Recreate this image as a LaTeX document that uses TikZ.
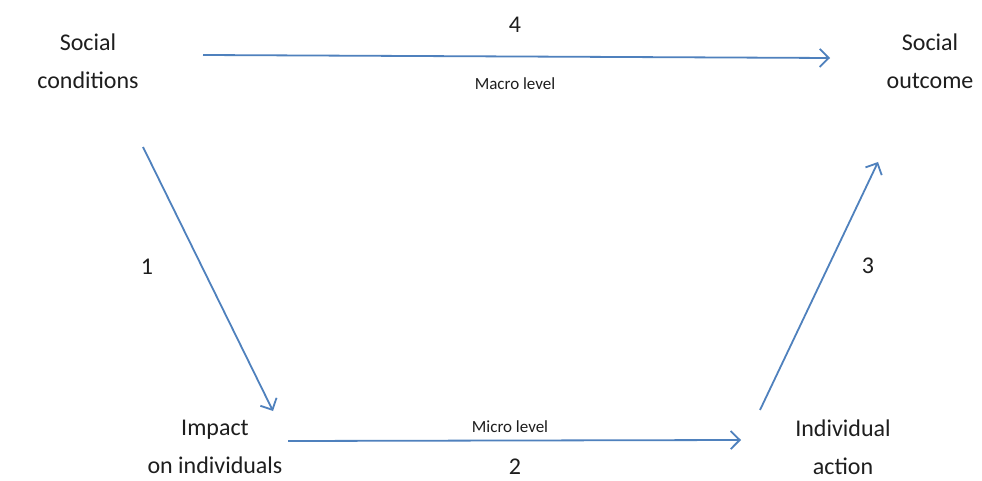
\documentclass[tikz,border=0pt]{standalone}
\usepackage{fontspec}
\setmainfont{Carlito}
\usetikzlibrary{arrows.meta}
\definecolor{arrowblue}{RGB}{79,129,189}
\definecolor{txt}{RGB}{30,30,30}
\tikzset{
  lbl/.style={font=\fontsize{24}{38}\selectfont, text=txt, align=center, inner sep=0pt},
  lvl/.style={font=\fontsize{17}{20}\selectfont, text=txt, inner sep=0pt},
  num/.style={font=\fontsize{24}{28}\selectfont, text=txt, inner sep=0pt},
  link/.style={draw=arrowblue, line width=1.8pt, -{Straight Barb[length=9pt,width=18pt,line width=1.8pt]}}
}
\begin{document}
\begin{tikzpicture}[x=1pt,y=-1pt]
\useasboundingbox[fill=white] (0,0) rectangle (982,481);
\node[lbl] (sc) at (88,61) {Social\\conditions};
\node[lbl] (so) at (930,61) {Social\\outcome};
\node[lbl] (im) at (215,447) {Impact\\on individuals};
\node[lbl] (ia) at (843,447) {Individual\\action};
\node[num] (n4) at (515,25) {4};
\node[lvl] (mac) at (515,84) {Macro level};
\node[num] (n1) at (147,267) {1};
\node[num] (n3) at (868,266) {3};
\node[num] (n2) at (515,467) {2};
\node[lvl] (mic) at (510,427) {Micro level};
\coordinate (a4s) at (203,55);
\coordinate (a4e) at (830,58);
\coordinate (a1s) at (143,147);
\coordinate (a1e) at (273,411);
\coordinate (a2s) at (288,441);
\coordinate (a2e) at (741,440);
\coordinate (a3s) at (760,410);
\coordinate (a3e) at (878,162);
\draw[link] (a4s) -- (a4e);
\draw[link] (a1s) -- (a1e);
\draw[link] (a2s) -- (a2e);
\draw[link] (a3s) -- (a3e);
\end{tikzpicture}
\end{document}
